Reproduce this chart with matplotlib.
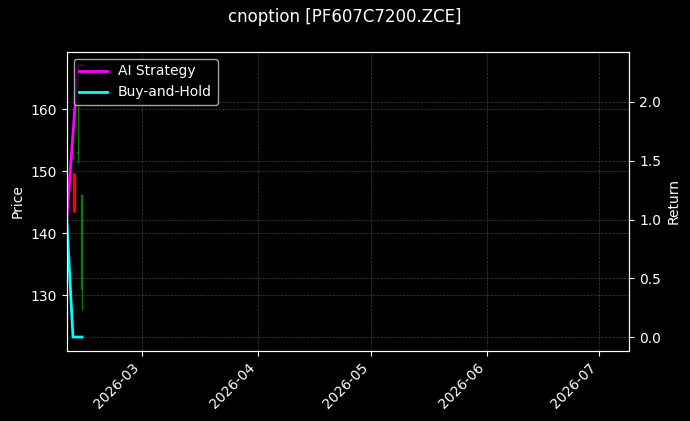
import numpy as np
import pandas as pd
import matplotlib
matplotlib.use('Agg')
import matplotlib.pyplot as plt
import matplotlib.dates as mdates

plt.style.use('dark_background')

# K线数据 (日线)
candle_dates = pd.to_datetime(['2026-02-11', '2026-02-12', '2026-02-13'])
opens = [149.7, 152.8, 130.9]
closes = [143.5, 153.1, 146.2]
highs = [149.7, 167.0, 146.2]
lows = [143.5, 151.4, 127.6]

# 收益曲线
strategy_dates = pd.to_datetime(['2026-02-09 00:00', '2026-02-12 00:00', '2026-02-13 02:00'])
strategy_ret = [1.0, 2.31, 2.31]
hold_dates = pd.to_datetime(['2026-02-09 00:00', '2026-02-10 16:00', '2026-02-13 02:00'])
hold_ret = [1.0, 0.0, 0.0]

fig, ax = plt.subplots(figsize=(6.9, 4.21), dpi=100)
fig.subplots_adjust(left=0.0967, right=0.912, top=0.8765, bottom=0.167)

o = np.array(opens)
c = np.array(closes)
up = c >= o
colors = np.where(up, 'green', 'red')
ax.vlines(candle_dates, lows, highs, colors=colors, lw=0.8)
ax.vlines(candle_dates[up], o[up], c[up], colors='green', lw=1.6)
ax.vlines(candle_dates[~up], c[~up], o[~up], colors='red', lw=2.4)
ax.set_ylabel('Price')
ax.set_ylim(121.1, 169.2)
ax.set_xlim(pd.Timestamp('2026-02-09'), pd.Timestamp('2026-07-09'))
ax.grid(True, color='gray', linestyle='--', linewidth=0.5, alpha=0.5)

ax2 = ax.twinx()
ax2.plot(strategy_dates, strategy_ret, color='magenta', lw=2, label='AI Strategy')
ax2.plot(hold_dates, hold_ret, color='cyan', lw=2, label='Buy-and-Hold')
ax2.set_ylabel('Return')
ax2.set_ylim(-0.116, 2.425)
ax2.grid(True, color='gray', linestyle='--', linewidth=0.5, alpha=0.5)
ax2.legend(loc='upper left')

ax.xaxis.set_major_locator(mdates.MonthLocator())
ax.xaxis.set_major_formatter(mdates.DateFormatter('%Y-%m'))
for lbl in ax.get_xticklabels():
    lbl.set_rotation(45)
    lbl.set_ha('right')

fig.suptitle('cnoption [PF607C7200.ZCE]')
fig.savefig('out.png', dpi=100)
